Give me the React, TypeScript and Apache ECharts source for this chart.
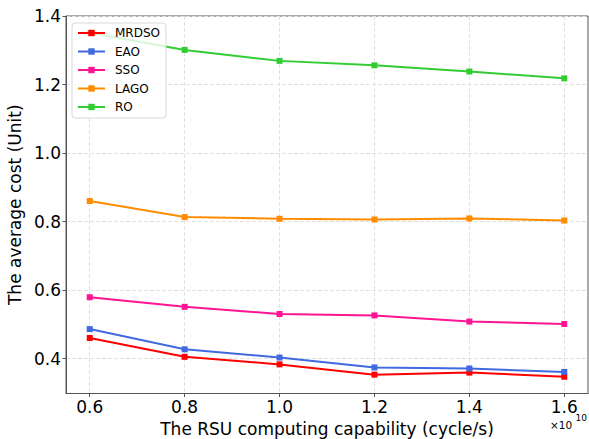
import React, { useEffect, useRef } from "react";
import * as echarts from "echarts";

const xValues = [0.6, 0.8, 1.0, 1.2, 1.4, 1.6];
const xTicks = [0.6, 0.8, 1.0, 1.2, 1.4, 1.6];
const yTicks = [0.4, 0.6, 0.8, 1.0, 1.2, 1.4];

const seriesNames = ["MRDSO", "EAO", "SSO", "LAGO", "RO"];
const seriesColors = ["#ff0000", "#4169e1", "#ff1493", "#ff8c00", "#32cd32"];

const mrdso = [0.46, 0.405, 0.383, 0.353, 0.359, 0.347];
const eao = [0.486, 0.427, 0.403, 0.374, 0.371, 0.361];
const sso = [0.579, 0.551, 0.53, 0.526, 0.508, 0.501];
const lago = [0.86, 0.813, 0.808, 0.806, 0.809, 0.803];
const ro = [1.351, 1.301, 1.269, 1.256, 1.238, 1.218];

const seriesValues = [mrdso, eao, sso, lago, ro];

const FONT = "DejaVu Sans";

export default function App() {
  const ref = useRef<HTMLDivElement>(null);
  useEffect(() => {
    if (!ref.current) return;
    const chart = echarts.init(ref.current, null, { renderer: "svg" });
    const gridLine = { show: true, lineStyle: { color: "#e2e2e2", type: [4, 2], width: 1 } };
    chart.setOption({
      animation: false,
      backgroundColor: "#ffffff",
      grid: {
        left: 66,
        right: 1,
        top: 16,
        bottom: 45.5,
        outerBoundsMode: "none",
        containLabel: false,
        show: true,
        borderColor: "#555555",
        borderWidth: 1,
        backgroundColor: "transparent",
      },
      legend: {
        left: 72,
        top: 23,
        orient: "vertical",
        data: seriesNames,
        itemWidth: 27,
        itemHeight: 8,
        itemGap: 6.5,
        padding: [4, 6, 5, 5],
        backgroundColor: "rgba(255,255,255,0.8)",
        borderColor: "#d8d8d8",
        borderWidth: 1,
        borderRadius: 3,
        textStyle: { fontFamily: FONT, fontSize: 12, color: "#000", padding: [0, 0, 0, 5] },
      },
      xAxis: {
        type: "value",
        min: 0.55,
        max: 1.65,
        name: "The RSU computing capability (cycle/s)",
        nameLocation: "middle",
        nameGap: 17,
        nameTextStyle: { fontFamily: FONT, fontSize: 17, color: "#000" },
        axisLine: { show: true, onZero: false, lineStyle: { color: "#555555" } },
        axisTick: { show: true, length: 3.5, inside: false, customValues: xTicks, lineStyle: { color: "#555555" } },
        axisLabel: {
          customValues: xTicks,
          margin: 5,
          fontFamily: FONT,
          fontSize: 17,
          color: "#000",
          formatter: (v: number) => v.toFixed(1),
        },
        splitLine: gridLine,
      },
      yAxis: {
        type: "value",
        min: 0.298,
        max: 1.4,
        name: "The average cost (Unit)",
        nameLocation: "middle",
        nameGap: 33,
        nameTextStyle: { fontFamily: FONT, fontSize: 17, color: "#000" },
        axisLine: { show: true, onZero: false, lineStyle: { color: "#555555" } },
        axisTick: { show: true, length: 3.5, inside: false, customValues: yTicks, lineStyle: { color: "#555555" } },
        axisLabel: {
          customValues: yTicks,
          margin: 5,
          fontFamily: FONT,
          fontSize: 17,
          color: "#000",
          formatter: (v: number) => v.toFixed(1),
        },
        splitLine: gridLine,
      },
      series: seriesNames.map((name, i) => ({
        name,
        type: "line",
        data: xValues.map((x, j) => [x, seriesValues[i][j]]),
        symbol: "rect",
        symbolSize: 6,
        showSymbol: true,
        lineStyle: { color: seriesColors[i], width: 2 },
        itemStyle: { color: seriesColors[i] },
        emphasis: { disabled: true },
      })),
      graphic: [
        {
          type: "text",
          left: 550,
          top: 419,
          style: { text: "×10", fontFamily: FONT, fontSize: 10.5, fill: "#000" },
        },
        {
          type: "text",
          left: 575.5,
          top: 413.5,
          style: { text: "10", fontFamily: FONT, fontSize: 9, fill: "#000" },
        },
      ],
    });
    return () => chart.dispose();
  }, []);
  return (
    <div
      ref={ref}
      style={{ position: "fixed", left: 0, top: 0, width: 589, height: 439 }}
    />
  );
}
